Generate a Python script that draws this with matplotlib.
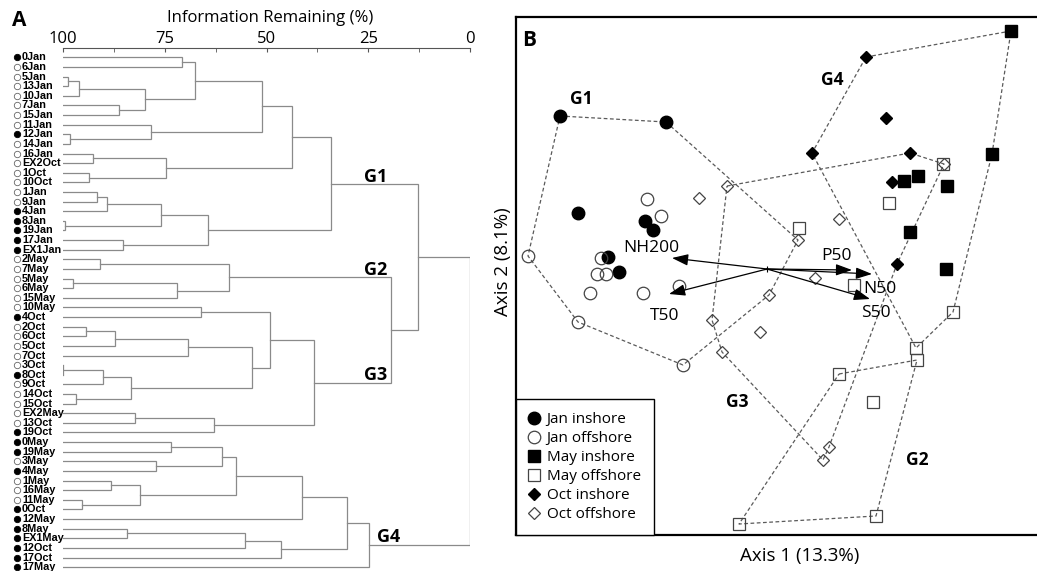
import matplotlib
matplotlib.use('Agg')
import matplotlib.pyplot as plt
from matplotlib import transforms
from matplotlib.font_manager import FontProperties

plt.rcParams['font.family'] = ['Open Sans', 'DejaVu Sans']

# ---- panel A: cluster tree, (information remaining %, left child, right child)
G1 = (34.2,
      (43.8,
       (51.2,
        (67.6, (70.7, '0Jan', '6Jan'),
         (79.8, (96.1, (98.8, '5Jan', '13Jan'), '10Jan'), (86.2, '7Jan', '15Jan'))),
        (78.5, '11Jan', (98.3, '12Jan', '14Jan'))),
       (74.7, (92.7, '16Jan', 'EX2Oct'), (93.6, '1Oct', '10Oct'))),
      (64.4,
       (75.8, (89.1, (91.7, '1Jan', '9Jan'), '4Jan'), (99.5, '8Jan', '19Jan')),
       (85.3, '17Jan', 'EX1Jan')))
G2 = (59.2, (90.9, '2May', '7May'), (72.1, (97.5, '5May', '6May'), '15May'))
G3 = (38.3,
      (49.1, (66.1, '10May', '4Oct'),
       (53.5,
        (69.2, (87.2, (94.3, '2Oct', '6Oct'), '5Oct'), '7Oct'),
        (83.3, (90.1, (99.9, '3Oct', '8Oct'), '9Oct'), (96.8, '14Oct', '15Oct')))),
      (62.8, (82.2, 'EX2May', '13Oct'), '19Oct'))
G4 = (24.8,
      (30.1,
       (41.2,
        (57.4,
         (61.0, (73.4, '0May', '19May'), (77.2, '3May', '4May')),
         (81.0, (88.2, '1May', '16May'), (95.3, '11May', '0Oct'))),
        '12May'),
       (46.5, (55.4, (84.3, '8May', 'EX1May'), '12Oct'), '17Oct')),
      '17May')
tree = (0.0, (12.7, G1, (19.3, G2, G3)), G4)

inshore_sites = ['0Jan', '12Jan', '4Jan', '8Jan', '19Jan', '17Jan', 'EX1Jan',
                 '4Oct', '8Oct', '19Oct', '0May', '19May', '4May', '0Oct',
                 '12May', '8May', 'EX1May', '12Oct', '17Oct', '17May']

tree_groups = ['G1', 'G2', 'G3', 'G4']
tree_group_pos = [(23.1, 12.4), (23.1, 22.1), (23.1, 33.0), (20.1, 49.9)]

# ---- panel B: ordination scores
jan_in_x = [-2.07, -1.01, -1.89, -1.22, -1.14, -1.59, -1.48]
jan_in_y = [1.53, 1.47, 0.56, 0.48, 0.39, 0.12, -0.03]
jan_off_x = [-1.20, -1.06, -2.39, -1.66, -1.70, -1.61, -0.88, -1.77, -1.24, -1.89, -0.84]
jan_off_y = [0.70, 0.53, 0.13, 0.11, -0.05, -0.05, -0.17, -0.24, -0.24, -0.53, -0.96]
may_in_x = [2.44, 2.25, 1.37, 1.51, 1.80, 1.43, 1.79]
may_in_y = [2.38, 1.15, 0.88, 0.93, 0.83, 0.37, 0.00]
may_off_x = [1.76, 1.22, 0.32, 0.87, 1.86, 1.49, 1.50, 0.72, 1.06, 1.09, -0.28]
may_off_y = [1.05, 0.66, 0.41, -0.16, -0.43, -0.79, -0.91, -1.05, -1.33, -2.47, -2.55]
oct_in_x = [0.99, 1.19, 0.45, 1.43, 1.25, 1.30]
oct_in_y = [2.12, 1.51, 1.16, 1.16, 0.87, 0.05]
oct_off_x = [1.77, -0.40, -0.68, 0.72, 0.31, 0.48, 0.02, -0.55, -0.07, -0.45, 0.62, 0.56]
oct_off_y = [1.05, 0.83, 0.71, 0.50, 0.29, -0.09, -0.26, -0.51, -0.63, -0.83, -1.78, -1.91]

hull_g1 = [(-2.07, 1.53), (-1.01, 1.47), (0.31, 0.29), (0.02, -0.26), (-0.84, -0.96), (-1.89, -0.53), (-2.39, 0.13)]
hull_g2 = [(0.72, -1.05), (1.50, -0.91), (1.09, -2.47), (-0.28, -2.55)]
hull_g3 = [(-0.40, 0.83), (1.43, 1.16), (1.77, 1.05), (1.30, 0.05), (0.62, -1.78), (0.56, -1.91), (-0.45, -0.83), (-0.55, -0.51)]
hull_g4 = [(0.99, 2.12), (2.44, 2.38), (2.25, 1.15), (1.86, -0.43), (1.49, -0.79), (0.45, 1.16)]

vec_names = ['NH200', 'P50', 'N50', 'T50', 'S50']
vec_x = [-0.95, 0.85, 1.05, -0.98, 1.03]
vec_y = [0.11, -0.01, -0.05, -0.25, -0.30]
vec_label_off = [(-15, 7), (-11, 10), (6, -11), (-3, -16), (4, -10)]

ord_groups = ['G1', 'G4', 'G3', 'G2']
ord_group_pos = [(-1.86, 1.70), (0.65, 1.89), (-0.30, -1.33), (1.50, -1.91)]

W, H = 1037, 571
fig = plt.figure(figsize=(W / 100, H / 100), dpi=100)
grey = '#8a8a8a'

# ---------------- panel A
axA = fig.add_axes([63 / W, 0, (470 - 63) / W, 1 - 48 / H])
leaves = []

def draw_node(node):
    if isinstance(node, str):
        leaves.append(node)
        return len(leaves) - 1, 100.0
    h, a, b = node
    ya, ha = draw_node(a)
    yb, hb = draw_node(b)
    axA.plot([ha, h, h, hb], [ya, ya, yb, yb], color=grey, lw=0.9, solid_joinstyle='miter')
    return (ya + yb) / 2, h

draw_node(tree)
axA.set_xlim(100, 0)
axA.set_ylim(53.4, -0.97)
for s in ['left', 'right', 'bottom']:
    axA.spines[s].set_visible(False)
axA.spines['top'].set_color('#555555')
axA.xaxis.tick_top()
axA.set_xticks([100, 75, 50, 25, 0])
axA.set_xticks([87.5, 62.5, 37.5, 12.5], minor=True)
axA.tick_params(axis='x', which='both', direction='in', length=3, color='#555555', pad=0.5, labelsize=12)
axA.set_yticks([])

leaf_font = FontProperties(family='Liberation Sans', weight='bold', size=7.8)
tr = transforms.blended_transform_factory(fig.transFigure, axA.transData)
for i, name in enumerate(leaves):
    filled = name in inshore_sites
    axA.plot([17 / W], [i], transform=tr, marker='o', ms=4.6, clip_on=False,
             mfc='black' if filled else 'white', mec='black' if filled else '#666666', mew=0.6)
    axA.text(22 / W, i, name, transform=tr, fontproperties=leaf_font, va='center', ha='left')

for g, (gx, gy) in zip(tree_groups, tree_group_pos):
    axA.text(gx, gy, g, fontsize=13, fontweight='bold', ha='center', va='center')

fig.text(270 / W, 1 - 18 / H, 'Information Remaining (%)', fontsize=12, ha='center', va='center')
fig.text(19 / W, 1 - 20 / H, 'A', fontsize=15, fontweight='bold', ha='center', va='center')

# ---------------- panel B
x0, x1 = (516 - 767) / 100, (1060 - 767) / 100
y0, y1 = (269 - 535) / 100, (269 - 17.3) / 100
axB = fig.add_axes([516 / W, (571 - 535) / H, (1060 - 516) / W, (535 - 17.3) / H])
axB.set_xlim(x0, x1)
axB.set_ylim(y0, y1)
axB.set_xticks([])
axB.set_yticks([])
for s in axB.spines.values():
    s.set_linewidth(1.6)
axB.spines['right'].set_visible(False)

for hull in [hull_g1, hull_g2, hull_g3, hull_g4]:
    hx = [p[0] for p in hull] + [hull[0][0]]
    hy = [p[1] for p in hull] + [hull[0][1]]
    axB.plot(hx, hy, ls=(0, (3, 2)), color='#5a5a5a', lw=0.9, zorder=1)

for name, vx, vy, off in zip(vec_names, vec_x, vec_y, vec_label_off):
    axB.annotate('', xy=(vx, vy), xytext=(0, 0),
                 arrowprops=dict(arrowstyle='-|>,head_length=0.7,head_width=0.25', color='black',
                                 lw=0.9, mutation_scale=14, shrinkA=0, shrinkB=0), zorder=3)
    axB.annotate(name, xy=(vx, vy), xytext=off, textcoords='offset points',
                 fontsize=12.5, ha='center', va='center', zorder=4)
axB.plot([0], [0], marker='+', color='black', ms=5, mew=0.8, zorder=3)

ms = 9
axB.plot(jan_in_x, jan_in_y, ls='none', marker='o', ms=ms, mfc='black', mec='black', label='Jan inshore', zorder=2)
axB.plot(jan_off_x, jan_off_y, ls='none', marker='o', ms=ms, mfc='none', mec='#444444', mew=0.9, label='Jan offshore', zorder=2)
axB.plot(may_in_x, may_in_y, ls='none', marker='s', ms=ms - 0.5, mfc='black', mec='black', label='May inshore', zorder=2)
axB.plot(may_off_x, may_off_y, ls='none', marker='s', ms=ms - 0.5, mfc='none', mec='#444444', mew=0.9, label='May offshore', zorder=2)
axB.plot(oct_in_x, oct_in_y, ls='none', marker='D', ms=ms - 2.5, mfc='black', mec='black', label='Oct inshore', zorder=2)
axB.plot(oct_off_x, oct_off_y, ls='none', marker='D', ms=ms - 2.5, mfc='none', mec='#444444', mew=0.9, label='Oct offshore', zorder=2)

for g, (gx, gy) in zip(ord_groups, ord_group_pos):
    axB.text(gx, gy, g, fontsize=12.5, fontweight='bold', ha='center', va='center')
axB.text(0.025, 0.955, 'B', transform=axB.transAxes, fontsize=15, fontweight='bold', ha='center', va='center')

leg = axB.legend(loc='lower left', fancybox=False, edgecolor='black', borderaxespad=0,
                 fontsize=11, handlelength=0.7, handletextpad=0.45, labelspacing=0.26,
                 borderpad=0.85, framealpha=1)
leg.get_frame().set_linewidth(1.0)

fig.text(800 / W, 1 - 556 / H, 'Axis 1 (13.3%)', fontsize=13.5, ha='center', va='center')
fig.text(503 / W, 1 - 262 / H, 'Axis 2 (8.1%)', fontsize=13.5, ha='center', va='center', rotation=90)

fig.savefig('out.png', dpi=100)
